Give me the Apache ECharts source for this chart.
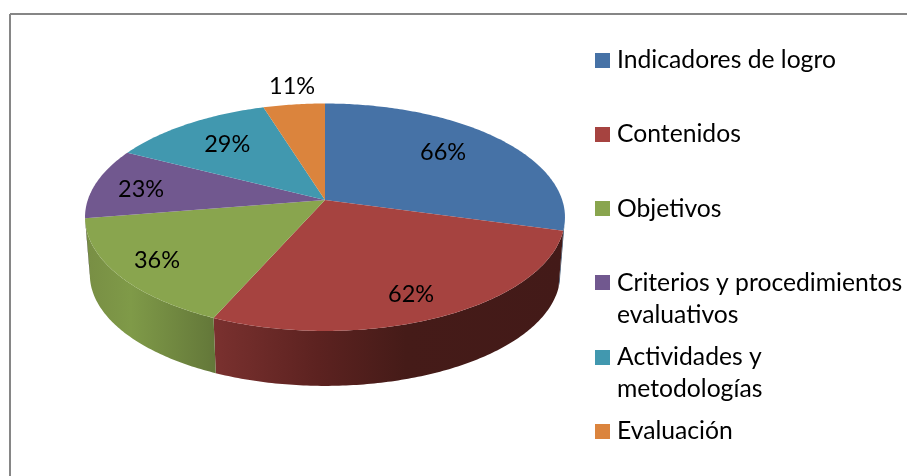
<!DOCTYPE html>
<html><head><meta charset="utf-8">
<style>html,body{margin:0;padding:0;background:#fff}#c{width:907px;height:476px}</style>
<script src="https://cdn.jsdelivr.net/npm/echarts@6/dist/echarts.min.js"></script>
</head><body><div id="c"></div>
<script>
const categories = ['Indicadores de logro','Contenidos','Objetivos','Criterios y procedimientos evaluativos','Actividades y metodologías','Evaluación'];
const legendLines = [['Indicadores de logro'],['Contenidos'],['Objetivos'],['Criterios y procedimientos','evaluativos'],['Actividades y','metodologías'],['Evaluación']];
const values = [66,62,36,23,29,11];
const colors = ['#4672A6','#A64340','#89A54E','#71588F','#4198AF','#DB843D'];
const wallColors = [
  [[0,'#24405f'],[1,'#24405f']],
  [[0,'#7A312F'],[0.3,'#5C2220'],[0.55,'#451B18'],[1,'#431A18']],
  [[0,'#788E44'],[0.35,'#7F9A48'],[1,'#637739']],
  [[0,'#3f2f52'],[1,'#3f2f52']],
  [[0,'#245766'],[1,'#245766']],
  [[0,'#7d4a20'],[1,'#7d4a20']]
];
const labelRadius = [.712,.813,.821,.794,.714,1.239];
const labelAlong = [.46,.52,.51,.46,.53,.56];

// perspective disc
const cx=325, cy=200, A=237.2, B=111.1, k=.1515, depthCy=257.6, depthScale=.98, warp=.9;
const FONT='"Lato","Noto Sans",sans-serif';
const LABEL_FS=23.5, LEGEND_FS=24.7, TEXT_DY=1;
const total = values.reduce((a,b)=>a+b,0);
const rad = d=>d*Math.PI/180;
const bounds=[]; values.reduce((acc,v)=>{bounds.push([acc,acc+v/total*360]);return acc+v/total*360;},0);
function project(deg,r,c,s){
  const t=deg+warp*Math.sin(rad(deg/2));
  const X=r*Math.sin(rad(t)),Y=-r*Math.cos(rad(t)),d=1-k*Y;
  return [cx+s*A*X/d,c+s*B*Y/d];
}
function arc(a,b,c,s){
  const pts=[],n=Math.max(2,Math.ceil((b-a)/0.75));
  for(let i=0;i<=n;i++)pts.push(project(a+(b-a)*i/n,1,c,s));
  return pts;
}
const silhouette=Math.acos(-k)*180/Math.PI;
const backLo=silhouette, backHi=360-silhouette;

function renderWall(p,api){
  const [a,b]=bounds[p.dataIndex];
  const lo=Math.max(a,backLo),hi=Math.min(b,backHi);
  if(hi<=lo)return {type:'group',children:[]};
  const top=arc(lo,hi,cy,1),bottom=arc(lo,hi,depthCy,depthScale).reverse();
  const pts=top.concat(bottom);
  const xs=pts.map(q=>q[0]);
  const x0=Math.min(...xs),x1=Math.max(...xs);
  const stops=wallColors[p.dataIndex].map(s=>({offset:s[0],color:s[1]}));
  return {type:'polygon',shape:{points:pts},
    style:{fill:new echarts.graphic.LinearGradient(x0,0,x1,0,stops,true),stroke:null}};
}
function renderTop(p,api){
  const [a,b]=bounds[p.dataIndex];
  return {type:'polygon',shape:{points:[[cx,cy]].concat(arc(a,b,cy,1))},
    style:{fill:colors[p.dataIndex],stroke:null}};
}
function renderLabel(p,api){
  const i=p.dataIndex,[a,b]=bounds[i];
  const [x,y]=project(a+(b-a)*labelAlong[i],labelRadius[i],cy,1);
  return {type:'text',style:{text:api.value(0)+'%',x,y:y+TEXT_DY,align:'center',verticalAlign:'middle',
    fill:'#000',font:LABEL_FS+'px '+FONT}};
}
const legendX=595, legendTextX=617, legendY0=60, legendStep=74.3, lineStep=32, swatch=15;
function renderLegend(p,api){
  const i=p.dataIndex,y=legendY0+i*legendStep;
  const kids=[{type:'rect',shape:{x:legendX,y:Math.round(y-swatch/2),width:swatch,height:swatch},style:{fill:colors[i]}}];
  legendLines[i].forEach((t,j)=>kids.push({type:'text',style:{text:t,x:legendTextX,y:y+j*lineStep+TEXT_DY-1,
    align:'left',verticalAlign:'middle',fill:'#000',font:LEGEND_FS+'px '+FONT}}));
  return {type:'group',children:kids};
}
const base=(name,fn,z)=>({type:'custom',name,coordinateSystem:'none',renderItem:fn,z,silent:true,clip:false,
  data:values.map(v=>[v]),encode:{value:0},animation:false});

const chart=echarts.init(document.getElementById('c'),null,{renderer:'canvas'});
chart.setOption({
  animation:false,backgroundColor:'#fff',
  graphic:[
    {type:'line',shape:{x1:10,y1:14,x2:907,y2:14},style:{stroke:'#868686',lineWidth:2}},
    {type:'line',shape:{x1:10,y1:14,x2:10,y2:476},style:{stroke:'#868686',lineWidth:2}}
  ],
  series:[base('walls',renderWall,2),base('tops',renderTop,3),base('labels',renderLabel,4),base('legend',renderLegend,4)]
});
</script></body></html>
